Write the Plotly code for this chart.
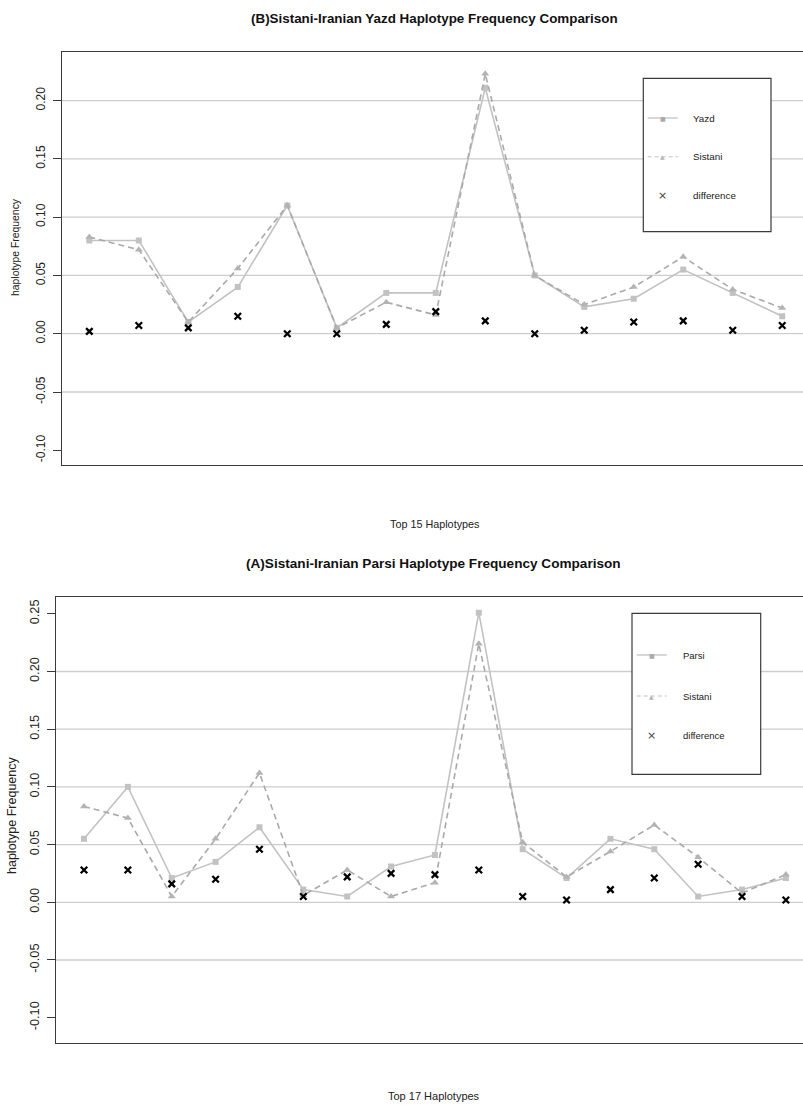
import plotly.graph_objects as go

# ---------------- data ----------------
top_idx = list(range(1, 16))
yazd = [0.080, 0.080, 0.010, 0.040, 0.110, 0.005, 0.035, 0.035, 0.211, 0.050, 0.023, 0.030, 0.055, 0.035, 0.015]
sistani_top = [0.083, 0.072, 0.010, 0.056, 0.110, 0.005, 0.027, 0.016, 0.223, 0.050, 0.025, 0.040, 0.066, 0.038, 0.022]
diff_top = [0.002, 0.007, 0.005, 0.015, 0.000, 0.000, 0.008, 0.019, 0.011, 0.000, 0.003, 0.010, 0.011, 0.003, 0.007]

bot_idx = list(range(1, 18))
parsi = [0.055, 0.100, 0.021, 0.035, 0.065, 0.011, 0.005, 0.031, 0.041, 0.251, 0.046, 0.021, 0.055, 0.046, 0.005, 0.011, 0.021]
sistani_bot = [0.083, 0.073, 0.005, 0.055, 0.112, 0.006, 0.028, 0.005, 0.017, 0.224, 0.052, 0.022, 0.044, 0.067, 0.039, 0.008, 0.024]
diff_bot = [0.028, 0.028, 0.016, 0.020, 0.046, 0.005, 0.022, 0.025, 0.024, 0.028, 0.005, 0.002, 0.011, 0.021, 0.033, 0.005, 0.002]

top_ticks = [-0.10, -0.05, 0.00, 0.05, 0.10, 0.15, 0.20]
top_ticktext = ["-0.10", "-0.05", "0.00", "0.05", "0.10", "0.15", "0.20"]
bot_ticks = [-0.10, -0.05, 0.00, 0.05, 0.10, 0.15, 0.20, 0.25]
bot_ticktext = ["-0.10", "-0.05", "0.00", "0.05", "0.10", "0.15", "0.20", "0.25"]
grid_vals = [-0.05, 0.00, 0.05, 0.10, 0.15, 0.20]

title_top = "(B)Sistani-Iranian Yazd Haplotype Frequency Comparison"
title_bot = "(A)Sistani-Iranian Parsi Haplotype Frequency Comparison"
xlab_top = "Top 15 Haplotypes"
xlab_bot = "Top 17 Haplotypes"
ylab = "haplotype Frequency"
legend_top = ["Yazd", "Sistani", "difference"]
legend_bot = ["Parsi", "Sistani", "difference"]

# ---------------- style ----------------
W, H = 803, 1106
SANS = "Liberation Sans, Arial, sans-serif"
C_SOLID = "#c2c2c2"
C_DASH = "#a9a9a9"
C_TRI = "#b3b3b3"
AXC = "#3a3a3a"


def fx(px):
    return px / W


def fy(py):
    return 1 - py / H


fig = go.Figure()


def add_series(xs, a, b, d, xa, ya, na, nb):
    fig.add_trace(go.Scatter(x=xs, y=a, mode="lines+markers", name=na, xaxis=xa, yaxis=ya,
                             line=dict(color=C_SOLID, width=1.6),
                             marker=dict(symbol="square", size=6, color=C_SOLID)))
    fig.add_trace(go.Scatter(x=xs, y=b, mode="lines+markers", name=nb, xaxis=xa, yaxis=ya,
                             line=dict(color=C_DASH, width=1.6, dash="6px,4px"),
                             marker=dict(symbol="triangle-up", size=7, color=C_TRI)))
    fig.add_trace(go.Scatter(x=xs, y=d, mode="markers", name="difference", xaxis=xa, yaxis=ya,
                             marker=dict(symbol="x-thin", size=6.5, color="black",
                                         line=dict(color="black", width=2.3))))


add_series(top_idx, yazd, sistani_top, diff_top, "x", "y", legend_top[0], legend_top[1])
add_series(bot_idx, parsi, sistani_bot, diff_bot, "x2", "y2", legend_bot[0], legend_bot[1])

shapes = []
for v in grid_vals:
    for xr, yr in (("x domain", "y"), ("x2 domain", "y2")):
        shapes.append(dict(type="line", xref=xr, yref=yr, x0=0, x1=1, y0=v, y1=v,
                           line=dict(color="#cdcdcd", width=1.3), layer="below"))

annotations = []


def legend_box(x0, y0, x1, y1, ys, names, lx0, lx1, tx, fsize):
    shapes.append(dict(type="rect", xref="paper", yref="paper", x0=fx(x0), x1=fx(x1),
                       y0=fy(y1), y1=fy(y0), line=dict(color=AXC, width=1.2),
                       fillcolor="white", layer="above"))
    shapes.append(dict(type="line", xref="paper", yref="paper", x0=fx(lx0), x1=fx(lx1),
                       y0=fy(ys[0]), y1=fy(ys[0]), line=dict(color=C_SOLID, width=1.3)))
    shapes.append(dict(type="line", xref="paper", yref="paper", x0=fx(lx0), x1=fx(lx1),
                       y0=fy(ys[1]), y1=fy(ys[1]), line=dict(color=C_SOLID, width=1.1, dash="4px,3px")))
    mid = (lx0 + lx1) / 2
    annotations.append(dict(xref="paper", yref="paper", x=fx(mid), y=fy(ys[0]), text="■",
                            showarrow=False, font=dict(size=6, color="#aaaaaa", family="DejaVu Sans"),
                            xanchor="center", yanchor="middle"))
    annotations.append(dict(xref="paper", yref="paper", x=fx(mid), y=fy(ys[1]), text="▲",
                            showarrow=False, font=dict(size=6, color="#b5b5b5", family="DejaVu Sans"),
                            xanchor="center", yanchor="middle"))
    annotations.append(dict(xref="paper", yref="paper", x=fx(mid), y=fy(ys[2]), text="×",
                            showarrow=False, font=dict(size=11, color="#444444", family="DejaVu Sans"),
                            xanchor="center", yanchor="middle"))
    for yy, nm in zip(ys, names):
        annotations.append(dict(xref="paper", yref="paper", x=fx(tx), y=fy(yy), text=nm,
                                showarrow=False, font=dict(size=fsize, color="#222222", family=SANS),
                                xanchor="left", yanchor="middle"))


legend_box(643.3, 78.3, 771, 231.7, [118, 156.7, 195.7], legend_top, 647.7, 677.7, 690.7, 9.8)
legend_box(632, 613.3, 760.7, 774.3, [655, 696, 735.7], legend_bot, 636.7, 666.7, 681, 9.5)

# titles and axis labels
annotations += [
    dict(xref="paper", yref="paper", x=fx(435), y=fy(19), text="<b>%s</b>" % title_top, showarrow=False,
         font=dict(size=13.4, family=SANS, color="#111111"), xanchor="center", yanchor="middle"),
    dict(xref="paper", yref="paper", x=fx(433), y=fy(563), text="<b>%s</b>" % title_bot, showarrow=False,
         font=dict(size=13.6, family=SANS, color="#111111"), xanchor="center", yanchor="middle"),
    dict(xref="paper", yref="paper", x=fx(435), y=fy(524), text=xlab_top, showarrow=False,
         font=dict(size=10.8, family=SANS, color="#222222"), xanchor="center", yanchor="middle"),
    dict(xref="paper", yref="paper", x=fx(434), y=fy(1096), text=xlab_bot, showarrow=False,
         font=dict(size=11, family=SANS, color="#222222"), xanchor="center", yanchor="middle"),
    dict(xref="paper", yref="paper", x=fx(15), y=fy(247), text=ylab, showarrow=False, textangle=-90,
         font=dict(size=10.4, family=SANS, color="#222222"), xanchor="center", yanchor="middle"),
    dict(xref="paper", yref="paper", x=fx(12), y=fy(816), text=ylab, showarrow=False, textangle=-90,
         font=dict(size=12.5, family=SANS, color="#222222"), xanchor="center", yanchor="middle"),
]

xcommon = dict(showline=True, mirror=True, linecolor=AXC, linewidth=1.2, ticks="",
               showticklabels=False, showgrid=False, zeroline=False)
ycommon = dict(ticks="outside", ticklen=8, tickcolor=AXC, tickwidth=1, tickangle=-90,
               showline=True, linecolor=AXC, linewidth=1.2, showgrid=False, zeroline=False,
               ticklabelstandoff=3)

fig.update_layout(
    width=W, height=H, margin=dict(l=0, r=0, t=0, b=0),
    plot_bgcolor="white", paper_bgcolor="white", showlegend=False,
    xaxis=dict(domain=[fx(61.7), 1], range=[0.442, 15.42], anchor="y", **xcommon),
    yaxis=dict(domain=[fy(465), fy(51.7)], range=[-0.1126, 0.2419], anchor="x",
               tickmode="array", tickvals=top_ticks, ticktext=top_ticktext,
               tickfont=dict(family=SANS, size=12, color="#222222"), **ycommon),
    xaxis2=dict(domain=[fx(56), 1], range=[0.362, 17.39], anchor="y2", **xcommon),
    yaxis2=dict(domain=[fy(1043.3), fy(596.7)], range=[-0.1222, 0.2648], anchor="x2",
                tickmode="array", tickvals=bot_ticks, ticktext=bot_ticktext,
                tickfont=dict(family=SANS, size=12.8, color="#222222"), **ycommon),
    shapes=shapes, annotations=annotations,
)

fig.write_html("out.html")
